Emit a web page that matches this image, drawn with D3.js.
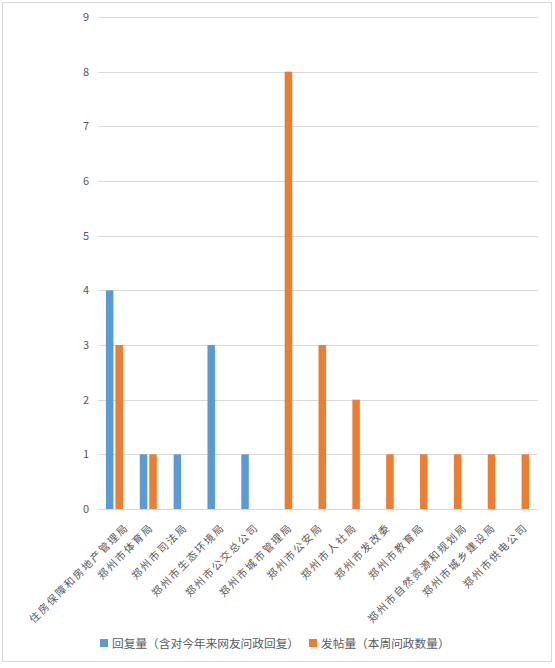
<!DOCTYPE html>
<html><head><meta charset="utf-8">
<script src="https://cdn.jsdelivr.net/npm/d3@7"></script>
<style>body{margin:0;background:#fff}</style>
</head><body>
<svg id="c" width="555" height="668"></svg>
<script>
const categories = ["住房保障和房地产管理局","郑州市体育局","郑州市司法局","郑州市生态环境局","郑州市公交总公司","郑州市城市管理局","郑州市公安局","郑州市人社局","郑州市发改委","郑州市教育局","郑州市自然资源和规划局","郑州市城乡建设局","郑州市供电公司"];
const replies = [4,1,1,3,1,0,0,0,0,0,0,0,0];
const posts   = [3,1,0,0,0,8,3,2,1,1,1,1,1];
const seriesNames = ["回复量（含对今年来网友问政回复）","发帖量（本周问政数量）"];
const yTicks = [0,1,2,3,4,5,6,7,8,9];
const colors = ["#5b9bd5","#ed7d31"];

const svg = d3.select("#c");
const font = "'Microsoft YaHei','Noto Sans CJK SC',sans-serif";
svg.append("rect").attr("x",2.5).attr("y",2.5).attr("width",549).attr("height",659)
  .attr("fill","#fff").attr("stroke","#d9d9d9");

const x = d3.scaleBand().domain(categories).range([98,538]);
const y = d3.scaleLinear().domain([0,9]).range([509,17]);

const g = svg.append("g");
g.selectAll("line.grid").data(yTicks).join("line")
  .attr("x1",98).attr("x2",538)
  .attr("y1",d=>Math.round(y(d))+0.5).attr("y2",d=>Math.round(y(d))+0.5)
  .attr("stroke","#d9d9d9").attr("stroke-width",1);
g.selectAll("text.yt").data(yTicks).join("text")
  .attr("x",89).attr("y",d=>y(d)+4).attr("text-anchor","end")
  .attr("font-family",font).attr("font-size",11).attr("fill","#595959").text(d=>d);

const bw = 7.5;
const cx = c => x(c)+x.bandwidth()/2;
g.selectAll("rect.s0").data(categories).join("rect")
  .attr("x",c=>cx(c)-9).attr("width",bw)
  .attr("y",(c,i)=>y(replies[i])).attr("height",(c,i)=>y(0)-y(replies[i]))
  .attr("fill",colors[0]);
g.selectAll("rect.s1").data(categories).join("rect")
  .attr("x",c=>cx(c)+0.5).attr("width",bw)
  .attr("y",(c,i)=>y(posts[i])).attr("height",(c,i)=>y(0)-y(posts[i]))
  .attr("fill",colors[1]);

g.selectAll("text.xl").data(categories).join("text")
  .attr("transform",c=>`translate(${cx(c)+5.5+(c.length-6)*1.8},528) rotate(-45)`)
  .attr("text-anchor","end").attr("font-family",font).attr("font-size",10.5)
  .attr("letter-spacing","1.8px").attr("fill","#595959").text(c=>c);

// legend
const leg = [{x:100,t:seriesNames[0],c:colors[0]},{x:309,t:seriesNames[1],c:colors[1]}];
const lg = svg.append("g");
lg.selectAll("rect").data(leg).join("rect").attr("x",d=>d.x).attr("y",639)
  .attr("width",8).attr("height",8).attr("fill",d=>d.c);
lg.selectAll("text").data(leg).join("text").attr("x",d=>d.x+12).attr("y",647.5)
  .attr("font-family",font).attr("font-size",11.7).attr("fill","#595959").text(d=>d.t);
</script>
</body></html>
